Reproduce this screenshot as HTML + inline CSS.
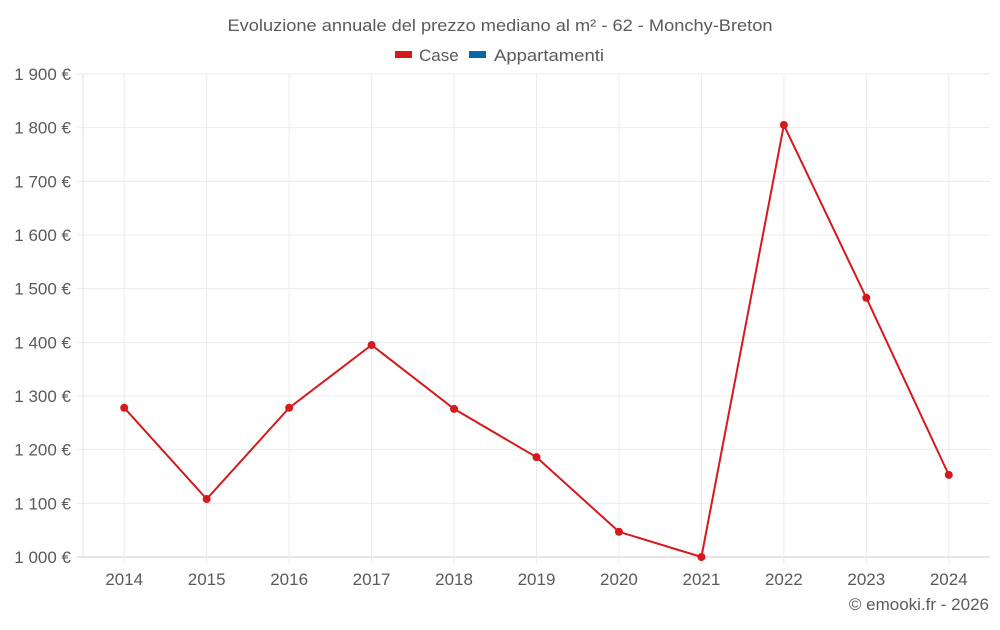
<!DOCTYPE html>
<html><head><meta charset="utf-8"><style>
body{margin:0;background:#fff;font-family:"Liberation Sans",Roboto,sans-serif;}
svg text{font-family:"Liberation Sans",sans-serif;fill:#5a5a5a;}
</style></head><body>
<svg id="chart" width="1000" height="625" xmlns="http://www.w3.org/2000/svg">
<text x="500" y="31" text-anchor="middle" font-size="17" textLength="545" lengthAdjust="spacingAndGlyphs">Evoluzione annuale del prezzo mediano al m² - 62 - Monchy-Breton</text>
<g>
<g><rect x="395" y="51" width="17" height="7" fill="#d7191c"/><text x="419" y="61" font-size="17">Case</text></g>
<g><rect x="469" y="51" width="17" height="7" fill="#0868a6"/><text x="494" y="61" font-size="17" textLength="110" lengthAdjust="spacingAndGlyphs">Appartamenti</text></g>
</g>
<g id="grid"></g><g id="axes"></g><g id="series"></g>
<text x="989" y="610" text-anchor="end" font-size="17">© emooki.fr - 2026</text>
</svg>
<script>
const years=["2014","2015","2016","2017","2018","2019","2020","2021","2022","2023","2024"];
const caseValues=[1278,1108,1278,1395,1276,1186,1047,1000,1805,1483,1153];
const yTicks=[1000,1100,1200,1300,1400,1500,1600,1700,1800,1900];
const NS="http://www.w3.org/2000/svg";
const L=83,R=990,T=74,B=557,yMin=1000,yMax=1900;
const step=(R-L)/years.length;
function x(i){return L+step*(i+0.5);}
function y(v){return B-(v-yMin)/(yMax-yMin)*(B-T);}
function mk(t,a,p){const e=document.createElementNS(NS,t);for(const k in a)e.setAttribute(k,a[k]);p.appendChild(e);return e;}
const g=document.getElementById('grid'),ax=document.getElementById('axes'),s=document.getElementById('series');
yTicks.forEach(v=>{
 const l=mk('line',{x1:L-6,x2:R,y1:y(v),y2:y(v),stroke:v===yMin?'#ccc':'#ebebeb'},g);
 
 
 const t=mk('text',{x:71,y:y(v)+6,'text-anchor':'end','font-size':17},ax);
 
 
 t.textContent=String(v).replace(/\B(?=(\d{3})+$)/,' ')+' €';
});
const la=mk('line',{x1:L,x2:L,y1:T,y2:B,stroke:'#e0e0e0'},g);


years.forEach((yr,i)=>{
 const l=mk('line',{x1:x(i),x2:x(i),y1:T,y2:B+7,stroke:'#ebebeb'},g);
 
 
 const t=mk('text',{x:x(i),y:585,'text-anchor':'middle','font-size':17},ax);
 
 
 t.textContent=yr;
});
const line=mk('polyline',{points:caseValues.map((v,i)=>x(i)+','+y(v)).join(' '),fill:'none',stroke:'#d7191c','stroke-width':2},s);


caseValues.forEach((v,i)=>{
 const c=mk('circle',{cx:x(i),cy:y(v),r:4,fill:'#d7191c'},s);
 
 
});
</script>
</body></html>
